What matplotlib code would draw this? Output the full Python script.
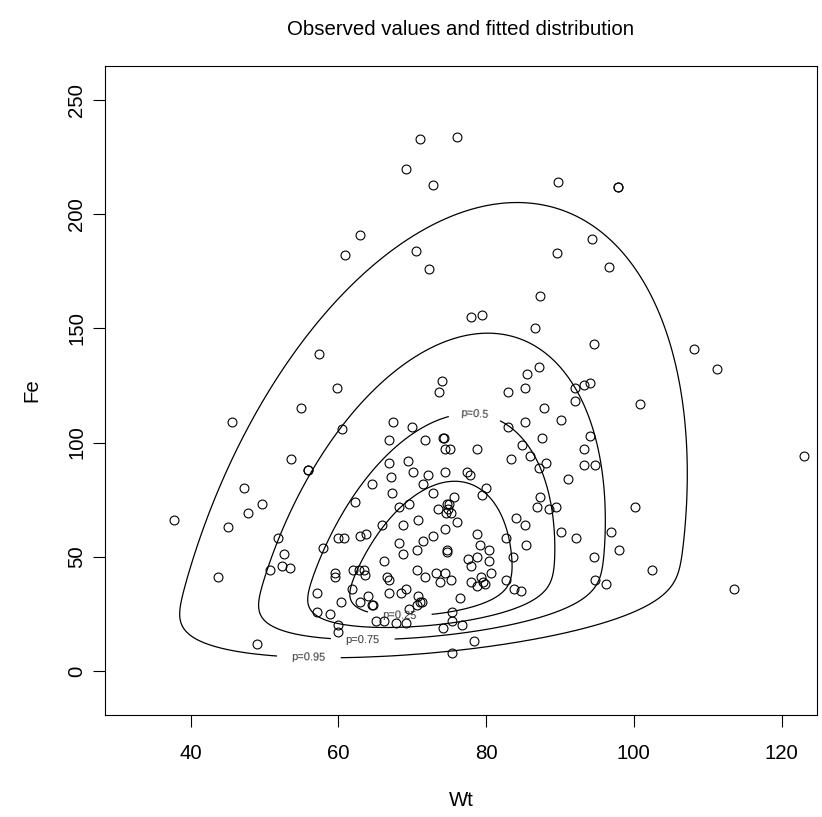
"""Scatter of Wt vs Fe with a fitted bivariate skew-normal and its probability contours."""
import math
import numpy as np
import matplotlib
matplotlib.use('Agg')
import matplotlib.pyplot as plt

wt = [60.9, 71.0, 76.0, 69.1, 72.8, 89.8, 62.9, 70.5, 72.3, 89.6, 97.8, 97.8, 94.4, 96.7,
      57.4, 59.8, 55.0, 45.6, 60.5, 53.6, 55.9, 55.9, 47.2, 49.7, 47.8,
      87.3, 77.9, 79.5, 86.6, 87.1, 85.6, 74.0, 73.6, 82.9, 85.2, 92.0, 93.3, 94.0, 92.1,
      87.8, 90.1, 85.2, 67.4, 69.9, 82.9, 66.9, 71.7, 74.1, 74.3, 87.5, 84.8, 74.4, 75.1,
      78.8, 86.0, 83.4, 69.4, 66.9, 87.1, 88.1, 67.1, 70.1, 72.1, 74.4, 77.4, 77.8, 91.1,
      64.6, 71.4, 67.3, 72.8, 80.0, 79.5, 87.3, 62.2, 69.6, 75.7, 68.2, 73.5, 86.9, 88.5,
      89.4, 74.7, 75.0, 74.8, 74.6, 75.3,
      94.6, 108.1, 111.2, 100.8, 94.0, 93.3, 93.2, 94.8, 123.1, 100.1,
      96.9, 92.2, 98.0, 94.6, 102.5, 94.8, 96.2, 113.5,
      37.7, 45.0, 43.7, 51.8, 52.7, 52.4, 53.4, 50.8, 49.0, 57.9, 60.0, 60.8, 59.6, 59.5,
      57.1, 60.4, 57.1, 58.9, 59.9, 59.9,
      76.1, 65.9, 68.7, 70.8, 74.4, 84.1, 85.3, 90.1, 62.9, 63.7, 68.2, 71.4, 72.8, 78.8,
      82.7, 85.4, 79.2, 80.4, 70.6, 68.7, 74.7, 74.7, 78.8, 77.5, 83.7, 80.4, 77.9, 66.2,
      80.6, 70.6, 71.7, 73.2, 74.4, 73.8, 75.3, 82.7, 79.3, 79.6, 79.9, 78.0, 78.7, 66.6,
      66.8, 62.0, 62.8, 63.4, 63.6, 61.8, 64.0, 64.5, 64.7, 62.9, 66.9, 68.5, 69.1, 70.8,
      71.3, 71.1, 70.6, 69.6, 76.5, 83.8, 84.7, 75.4, 75.4, 76.7, 74.2, 65.1, 66.2, 67.8,
      69.1, 78.4, 75.4]
fe = [182, 233, 234, 220, 213, 214, 191, 184, 176, 183, 212, 212, 189, 177,
      139, 124, 115, 109, 106, 93, 88, 88, 80, 73, 69,
      164, 155, 156, 150, 133, 130, 127, 122, 122, 124, 124, 125, 126, 118,
      115, 110, 109, 109, 107, 107, 101, 101, 102, 102, 102, 99, 97, 97,
      97, 94, 93, 92, 91, 89, 91, 85, 87, 86, 87, 87, 86, 84,
      82, 82, 78, 78, 80, 77, 76, 74, 73, 76, 72, 71, 72, 71,
      72, 73, 73, 71, 69, 69,
      143, 141, 132, 117, 103, 97, 90, 90, 94, 72,
      61, 58, 53, 50, 44, 40, 38, 36,
      66, 63, 41, 58, 51, 46, 45, 44, 12, 54, 58, 58, 43, 41,
      34, 30, 26, 25, 20, 17,
      65, 64, 64, 66, 62, 67, 64, 61, 59, 60, 56, 57, 59, 60,
      58, 55, 55, 53, 53, 51, 53, 52, 50, 49, 50, 48, 46, 48,
      43, 44, 41, 43, 43, 39, 40, 40, 41, 39, 38, 39, 37, 41,
      40, 44, 44, 44, 42, 36, 33, 29, 29, 30, 34, 34, 36, 33,
      30, 30, 29, 27, 32, 36, 35, 26, 22, 20, 19, 22, 22, 21,
      21, 13, 8]

probs = [0.25, 0.5, 0.75, 0.95]

_erfc = np.vectorize(math.erfc)


def norm_cdf(t):
    return 0.5 * _erfc(-np.asarray(t) / math.sqrt(2.0))


def sn_logpdf(theta, x, y):
    # bivariate skew-normal, direct parameters (xi, omega, rho, alpha)
    xi1, xi2, lw1, lw2, tr, a1, a2 = theta
    w1, w2, r = math.exp(lw1), math.exp(lw2), math.tanh(tr)
    z1 = (x - xi1) / w1
    z2 = (y - xi2) / w2
    q = (z1 ** 2 - 2 * r * z1 * z2 + z2 ** 2) / (1 - r ** 2)
    log_phi = -math.log(2 * math.pi) - math.log(w1 * w2) - 0.5 * math.log(1 - r ** 2) - 0.5 * q
    log_cdf = np.log(np.maximum(norm_cdf(a1 * z1 + a2 * z2), 1e-300))
    return math.log(2.0) + log_phi + log_cdf


def nelder_mead(fun, x0, step, n_iter=2500):
    n = len(x0)
    simplex = [np.array(x0, float)]
    for i in range(n):
        p = np.array(x0, float)
        p[i] += step[i]
        simplex.append(p)
    simplex = np.array(simplex)
    vals = np.array([fun(p) for p in simplex])
    for _ in range(n_iter):
        order = np.argsort(vals)
        simplex, vals = simplex[order], vals[order]
        centroid = simplex[:-1].mean(axis=0)
        worst = simplex[-1]
        xr = 2 * centroid - worst
        fr = fun(xr)
        if fr < vals[0]:
            xe = 3 * centroid - 2 * worst
            fe_ = fun(xe)
            if fe_ < fr:
                simplex[-1], vals[-1] = xe, fe_
            else:
                simplex[-1], vals[-1] = xr, fr
        elif fr < vals[-2]:
            simplex[-1], vals[-1] = xr, fr
        else:
            if fr < vals[-1]:
                xc = centroid + 0.5 * (xr - centroid)
            else:
                xc = centroid + 0.5 * (worst - centroid)
            fc = fun(xc)
            if fc < min(fr, vals[-1]):
                simplex[-1], vals[-1] = xc, fc
            else:
                simplex[1:] = simplex[0] + 0.5 * (simplex[1:] - simplex[0])
                vals[1:] = [fun(p) for p in simplex[1:]]
    return simplex[np.argmin(vals)]


x_obs = np.array(wt)
y_obs = np.array(fe, float)


def neg_loglik(theta):
    if abs(theta[4]) > 3:
        return 1e10
    return -np.sum(sn_logpdf(theta, x_obs, y_obs))


# fit by maximum likelihood
theta = np.array([65.0, 30.0, math.log(15), math.log(55), 0.3, 0.5, 3.0])
steps = [5.0, 10.0, 0.3, 0.3, 0.3, 1.0, 1.0]
for k in range(4):
    theta = nelder_mead(neg_loglik, theta, [s / (k + 1) for s in steps])

# density on a wide grid, levels enclosing the given probabilities
gx = np.linspace(0, 180, 600)
gy = np.linspace(-150, 450, 600)
GX, GY = np.meshgrid(gx, gy)
dens = np.exp(sn_logpdf(theta, GX, GY))
cell = (gx[1] - gx[0]) * (gy[1] - gy[0])
flat = np.sort(dens.ravel())[::-1]
cum = np.cumsum(flat) * cell
levels = [flat[np.searchsorted(cum, p)] for p in probs]

plt.rcParams['font.family'] = ['Liberation Sans', 'DejaVu Sans']
fig = plt.figure(figsize=(8.22, 8.17), dpi=100)
ax = fig.add_axes([105 / 822, 102 / 817, 712 / 822, 649 / 817])

ax.plot(wt, fe, 'o', mfc='none', mec='black', ms=6.4, mew=0.8, ls='none')

# contour for each probability level, labelled like R's contour()
label_pos = {0.25: (68.3, 23.6), 0.5: (78.4, 109.5), 0.75: (63.3, 12.7), 0.95: (56.0, 5.3)}
for p, lev in sorted(zip(probs, levels), key=lambda t: t[1]):
    cs = ax.contour(GX, GY, dens, levels=[lev], colors='black', linewidths=0.9)
    cs.clabel([lev], fmt={lev: 'p=%g' % p}, manual=[label_pos[p]], inline=True,
              inline_spacing=0, fontsize=8, colors='#333333')

ax.set_xlim(28.4, 124.8)
ax.set_ylim(-19.3, 264.9)
ax.set_xticks([40, 60, 80, 100, 120])
ax.set_yticks([0, 50, 100, 150, 200, 250])
ax.tick_params(labelsize=14.7, length=8.5, width=0.8, direction='out')
ax.tick_params(axis='x', pad=12.5)
ax.tick_params(axis='y', pad=5)
for lbl in ax.get_yticklabels():
    lbl.set_rotation(90)
    lbl.set_va('center')
for sp in ax.spines.values():
    sp.set_linewidth(0.8)

ax.set_xlabel('Wt', fontsize=14.7)
ax.set_ylabel('Fe', fontsize=14.7)
ax.xaxis.set_label_coords(0.5, -0.117)
ax.yaxis.set_label_coords(-0.09, 0.5)
ax.set_title('Observed values and fitted distribution', fontsize=14.7, pad=22)

fig.savefig('out.png', dpi=100)
